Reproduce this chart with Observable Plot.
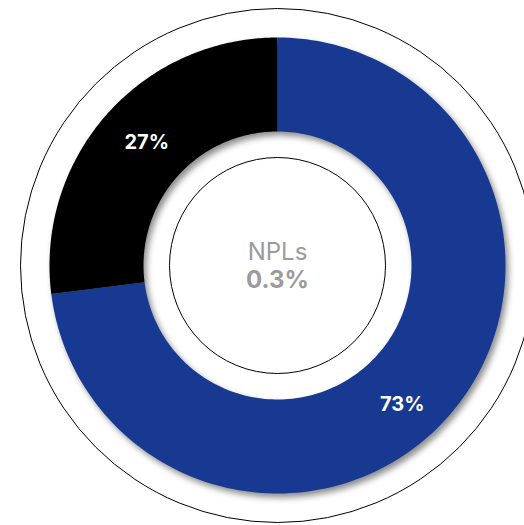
<!DOCTYPE html>
<html>
<head>
<meta charset="utf-8">
<script src="https://cdn.jsdelivr.net/npm/d3@7"></script>
<script src="https://cdn.jsdelivr.net/npm/@observablehq/plot@0.6"></script>
<style>
  html, body { margin: 0; padding: 0; background: #fff; }
  #chart { width: 524px; height: 525px; overflow: hidden; }
</style>
</head>
<body>
<div id="chart"></div>
<script>
// ---- data ----
const categories = ["Other", "NPL share"];
const shares = [73, 27];
const sliceColors = ["#183991", "#000000"];
const centerTitle = "NPLs";
const centerValue = "0.3%";

// ---- geometry (pixels) ----
const W = 524, H = 525, CX = 277, CY = 265;
const R_OUT = 228, R_IN = 134, RING_OUT = 257, RING_IN = 108, R_LABEL = 181;

const slices = d3.pie().sort(null).value(d => d.value)(
  categories.map((c, i) => ({category: c, value: shares[i], color: sliceColors[i]}))
);

// polygon outline of each donut slice in centred pixel units (y up)
const pts = [];
slices.forEach(s => {
  const n = 180;
  for (let k = 0; k <= n; k++) {
    const a = s.startAngle + (s.endAngle - s.startAngle) * k / n;
    pts.push({cat: s.data.category, color: s.data.color, x: R_OUT * Math.sin(a), y: R_OUT * Math.cos(a)});
  }
  for (let k = n; k >= 0; k--) {
    const a = s.startAngle + (s.endAngle - s.startAngle) * k / n;
    pts.push({cat: s.data.category, color: s.data.color, x: R_IN * Math.sin(a), y: R_IN * Math.cos(a)});
  }
});

const labels = slices.map(s => {
  const a = (s.startAngle + s.endAngle) / 2;
  return {cat: s.data.category, text: s.data.value + "%", x: R_LABEL * Math.sin(a), y: R_LABEL * Math.cos(a)};
});

const font = "Inter, 'Noto Sans', sans-serif";

const chart = Plot.plot({
  width: W, height: H,
  margin: 0,
  x: {domain: [-CX, W - CX], axis: null},
  y: {domain: [-(H - CY), CY], axis: null},
  style: {fontFamily: font, background: "transparent", overflow: "visible"},
  marks: [
    Plot.dot([{x: 0, y: 0}], {x: "x", y: "y", r: RING_OUT, stroke: "#000", strokeWidth: 1, fill: "none"}),
    Plot.line(pts, {x: "x", y: "y", z: "cat", fill: "color", stroke: "none", curve: "linear"}),
    Plot.dot([{x: 0, y: 0}], {x: "x", y: "y", r: RING_IN, stroke: "#000", strokeWidth: 1, fill: "none"}),
    Plot.text(labels.filter(d => d.cat === categories[1]), {x: "x", y: "y", text: "text", fill: "#fff", fontSize: 20, fontWeight: 700, dx: 5, dy: -3}),
    Plot.text(labels.filter(d => d.cat === categories[0]), {x: "x", y: "y", text: "text", fill: "#fff", fontSize: 20, fontWeight: 700, dx: -11, dy: 19}),
    Plot.text([centerTitle], {x: () => 0, y: () => 0, text: d => d, fill: "#9b9b9b", fontSize: 24, fontWeight: 400, dy: -13}),
    Plot.text([centerValue], {x: () => 0, y: () => 0, text: d => d, fill: "#9b9b9b", fontSize: 24, fontWeight: 700, dy: 15})
  ]
});

d3.select(chart).selectAll('g[aria-label="line"]')
  .style("filter", "drop-shadow(3px 4px 3px rgba(0,0,0,0.45))");

document.getElementById("chart").appendChild(chart);
</script>
</body>
</html>
